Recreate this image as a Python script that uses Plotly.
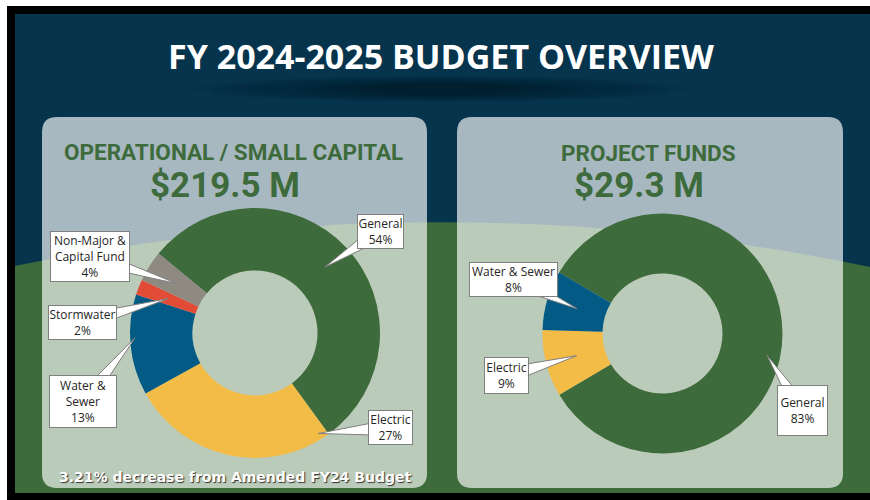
import math
import plotly.graph_objects as go

W, H = 870, 500

# ---------------- data ----------------
op_labels = ["General", "Electric", "Water & Sewer", "Stormwater", "Non-Major & Capital Fund"]
op_callout = ["General", "Electric", "Water &<br>Sewer", "Stormwater", "Non-Major &<br>Capital Fund"]
op_values = [54, 27, 13, 2, 4]
op_colors = ["#3E6B3B", "#F2BC46", "#035A84", "#E24C36", "#8E8A82"]

pf_labels = ["General", "Electric", "Water & Sewer"]
pf_callout = ["General", "Electric", "Water & Sewer"]
pf_values = [83, 9, 8]
pf_colors = ["#3E6B3B", "#F2BC46", "#035A84"]

title_text = "FY 2024-2025 BUDGET OVERVIEW"
op_title = "OPERATIONAL / SMALL CAPITAL"
op_total = "$219.5 M"
pf_title = "PROJECT FUNDS"
pf_total = "$29.3 M"
footnote = "3.21% decrease from Amended FY24 Budget"

# ---------------- layout constants (pixels) ----------------
NAVY = "#06344D"
GREEN = "#3E6B3B"

def px(x):
    return x / W

def py(y):
    return 1 - y / H

def rrect(x0, y0, x1, y1, r):
    return (f"M {px(x0+r)},{py(y0)} L {px(x1-r)},{py(y0)} Q {px(x1)},{py(y0)} {px(x1)},{py(y0+r)} "
            f"L {px(x1)},{py(y1-r)} Q {px(x1)},{py(y1)} {px(x1-r)},{py(y1)} "
            f"L {px(x0+r)},{py(y1)} Q {px(x0)},{py(y1)} {px(x0)},{py(y1-r)} "
            f"L {px(x0)},{py(y0+r)} Q {px(x0)},{py(y0)} {px(x0+r)},{py(y0)} Z")

shapes = []
# white page margins, black frame, navy background
shapes.append(dict(type="rect", xref="paper", yref="paper", x0=px(7), x1=px(W), y0=py(H), y1=py(6),
                   fillcolor="black", line_width=0, layer="below"))
shapes.append(dict(type="rect", xref="paper", yref="paper", x0=px(15), x1=px(W), y0=py(493), y1=py(14),
                   fillcolor=NAVY, line_width=0, layer="below"))
# green hill
shapes.append(dict(type="path", xref="paper", yref="paper",
                   path=f"M {px(15)},{py(266)} Q {px(442)},{py(178)} {px(W)},{py(267)} "
                        f"L {px(W)},{py(493)} L {px(15)},{py(493)} Z",
                   fillcolor=GREEN, line_width=0, layer="below"))
# soft shadow under title
n_glow = 9
for k in range(n_glow):
    t = k / (n_glow - 1)
    hw = 250 - 170 * t
    hh = 13 - 7 * t
    cxg, cyg = 440, 89
    shapes.append(dict(type="circle", xref="paper", yref="paper",
                       x0=px(cxg - hw), x1=px(cxg + hw), y0=py(cyg + hh), y1=py(cyg - hh),
                       fillcolor="black", opacity=0.045, line_width=0, layer="below"))
# panels
for (x0, x1) in [(42, 427), (457, 843)]:
    shapes.append(dict(type="path", xref="paper", yref="paper", path=rrect(x0, 117, x1, 488, 15),
                       fillcolor="rgba(255,255,255,0.65)", line_width=0, layer="below"))

fig = go.Figure()

pies = [
    dict(labels=op_labels, values=op_values, colors=op_colors, callout=op_callout,
         cx=255, cy=333, r=125, rot=-50.5,
         boxes=[(380.5, 231.5, 47, 35), (390.5, 427.5, 45, 35), (83, 401.5, 68, 53),
                (82.5, 322.5, 69, 35), (90, 256.5, 80, 51)],
         tips=[(0.5, 0.77), (0.04, 0.95), (0.57, 0.96), (0.5, 0.75), (0.5, 0.74)]),
    dict(labels=pf_labels, values=pf_values, colors=pf_colors, callout=pf_callout,
         cx=662.5, cy=333.5, r=120, rot=-59.5,
         boxes=[(802.5, 410.5, 51, 51), (506.5, 375.5, 45, 37), (513.5, 279.5, 89, 35)],
         tips=[(0.54, 0.89), (0.5, 0.74), (0.5, 0.74)]),
]

annotations = []
for p in pies:
    cx, cy, r = p["cx"], p["cy"], p["r"]
    fig.add_trace(go.Pie(
        labels=p["labels"], values=p["values"], hole=0.5, sort=False, direction="clockwise",
        rotation=p["rot"], marker=dict(colors=p["colors"], line=dict(width=0)),
        textinfo="none", showlegend=False, hoverinfo="label+percent",
        domain=dict(x=[px(cx - r), px(cx + r)], y=[py(cy + r), py(cy - r)]),
    ))
    total = sum(p["values"])
    start = p["rot"]
    for i, v in enumerate(p["values"]):
        span = 360.0 * v / total
        frac, rfrac = p["tips"][i]
        ang = math.radians(start + span * frac)
        tx = cx + r * rfrac * math.sin(ang)
        ty = cy - r * rfrac * math.cos(ang)
        start += span
        bx, by, bw, bh = p["boxes"][i]
        dx, dy = tx - bx, ty - by
        d = math.hypot(dx, dy)
        nx, ny = -dy / d, dx / d
        hw = 8
        shapes.append(dict(type="path", xref="paper", yref="paper",
                           path=f"M {px(bx + nx*hw)},{py(by + ny*hw)} L {px(tx)},{py(ty)} "
                                f"L {px(bx - nx*hw)},{py(by - ny*hw)} Z",
                           fillcolor="white", line=dict(color="#7F7F7F", width=1), layer="above"))
        pct = round(100.0 * v / total)
        annotations.append(dict(
            xref="paper", yref="paper", x=px(bx), y=py(by), xanchor="center", yanchor="middle",
            text=f"{p['callout'][i]}<br>{pct}%", showarrow=False, align="center",
            width=bw - 2, height=bh - 2, borderpad=0,
            bgcolor="white", bordercolor="#7F7F7F", borderwidth=1,
            font=dict(family="Open Sans", size=12, color="#262626"),
        ))

# titles
annotations.append(dict(xref="paper", yref="paper", x=px(441), y=py(56), text=f"<b>{title_text}</b>",
                        showarrow=False, xanchor="center", yanchor="middle",
                        font=dict(family="Open Sans", size=34, color="white")))
annotations.append(dict(xref="paper", yref="paper", x=px(234), y=py(152), text=f"<b>{op_title}</b>",
                        showarrow=False, xanchor="center", yanchor="middle",
                        font=dict(family="Roboto", size=22.5, color=GREEN)))
annotations.append(dict(xref="paper", yref="paper", x=px(225), y=py(185), text=f"<b>{op_total}</b>",
                        showarrow=False, xanchor="center", yanchor="middle",
                        font=dict(family="Roboto", size=35, color=GREEN)))
annotations.append(dict(xref="paper", yref="paper", x=px(648), y=py(153), text=f"<b>{pf_title}</b>",
                        showarrow=False, xanchor="center", yanchor="middle",
                        font=dict(family="Roboto", size=22.5, color=GREEN)))
annotations.append(dict(xref="paper", yref="paper", x=px(639), y=py(185), text=f"<b>{pf_total}</b>",
                        showarrow=False, xanchor="center", yanchor="middle",
                        font=dict(family="Roboto", size=35, color=GREEN)))
annotations.append(dict(xref="paper", yref="paper", x=px(235), y=py(477), text=f"<b>{footnote}</b>",
                        showarrow=False, xanchor="center", yanchor="middle",
                        font=dict(family="DejaVu Sans", size=14, color="white", shadow="1px 1px 1px #333333")))

fig.update_layout(
    width=W, height=H, margin=dict(l=0, r=0, t=0, b=0),
    paper_bgcolor="white", plot_bgcolor="white",
    shapes=shapes, annotations=annotations,
    xaxis=dict(visible=False), yaxis=dict(visible=False),
)

fig.write_html("out.html", config={"displayModeBar": False},
               post_script="document.body.style.margin='0';document.body.style.overflow='hidden';")
